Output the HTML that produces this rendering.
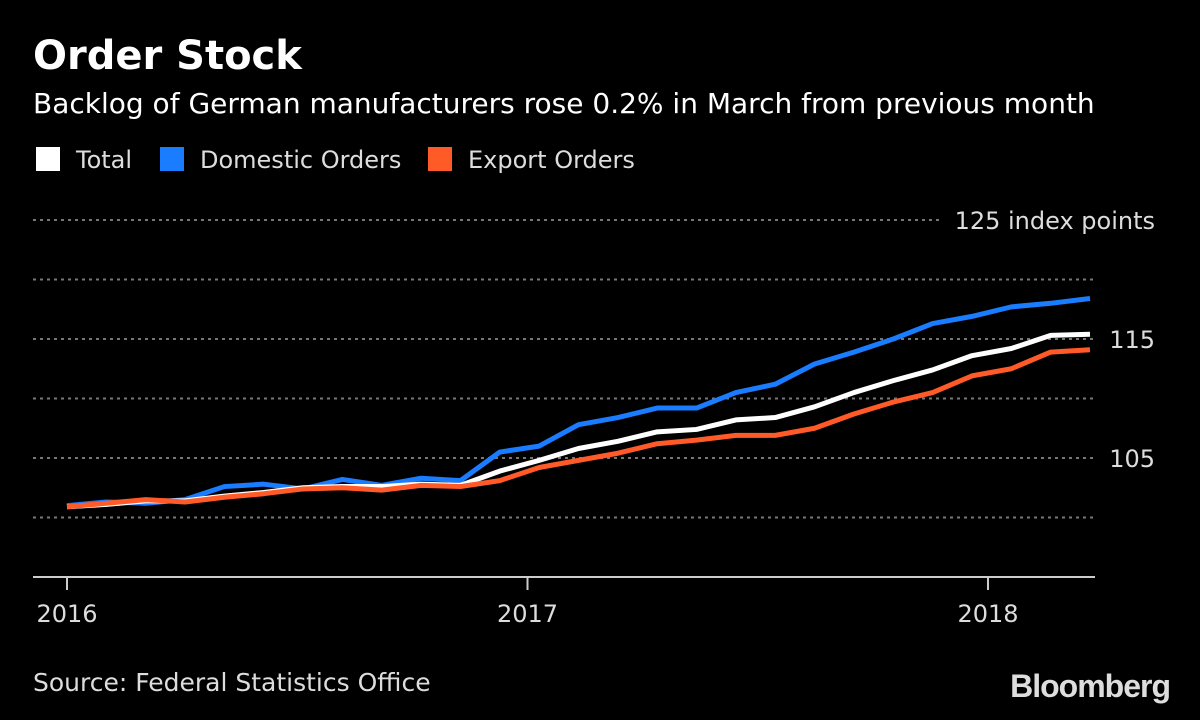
<!DOCTYPE html>
<html><head><meta charset="utf-8">
<style>
html,body{margin:0;padding:0;background:#000;}
body{width:1200px;height:720px;overflow:hidden;position:relative;font-family:"DejaVu Sans","Liberation Sans",sans-serif;color:#fff;}
.t{position:absolute;white-space:nowrap;}
</style></head>
<body>
<div class="t" style="left:33px;top:33px;font-size:40px;font-weight:bold;">Order Stock</div>
<div class="t" style="left:33px;top:87px;font-size:28px;">Backlog of German manufacturers rose 0.2% in March from previous month</div>
<div class="t" style="left:36px;top:146px;font-size:24px;color:#ddd;"><span style="display:inline-block;width:24px;height:24px;background:#fff;vertical-align:-3px;margin-right:16px;"></span>Total</div>
<div class="t" style="left:160px;top:146px;font-size:24px;color:#ddd;"><span style="display:inline-block;width:24px;height:24px;background:#1a7cff;vertical-align:-3px;margin-right:16px;"></span>Domestic Orders</div>
<div class="t" style="left:428px;top:146px;font-size:24px;color:#ddd;"><span style="display:inline-block;width:24px;height:24px;background:#ff5a27;vertical-align:-3px;margin-right:16px;"></span>Export Orders</div>
<svg id="chart" width="1200" height="720" style="position:absolute;left:0;top:0;"></svg>
<div class="t" style="left:33px;top:668px;font-size:25px;color:#ddd;">Source: Federal Statistics Office</div>
<div class="t" style="right:30px;top:668px;font-family:'Liberation Sans',sans-serif;font-size:32px;font-weight:bold;color:#ddd;letter-spacing:-1px;">Bloomberg</div>
<script>
const total=[100.9,101.1,101.4,101.4,101.8,102.1,102.5,102.6,102.6,102.8,102.7,103.9,104.8,105.8,106.4,107.2,107.4,108.2,108.4,109.3,110.5,111.5,112.4,113.6,114.2,115.3,115.4];
const domestic=[101.0,101.3,101.2,101.5,102.6,102.8,102.4,103.2,102.7,103.3,103.1,105.5,106.0,107.8,108.4,109.2,109.2,110.5,111.2,112.9,113.9,115.0,116.3,116.9,117.7,118.0,118.4];
const exportO=[100.9,101.2,101.5,101.3,101.7,102.0,102.4,102.5,102.3,102.7,102.6,103.1,104.2,104.8,105.4,106.2,106.5,106.9,106.9,107.5,108.7,109.7,110.5,111.9,112.5,113.9,114.1];
const gridVals=[100,105,110,115,120,125];
const yLabels=["","105","","115","","125 index points"];
const yearTicks=[0,12,24];
const yearLabels=["2016","2017","2018"];
const svg=document.getElementById('chart');
const NS='http://www.w3.org/2000/svg';
const y=v=>577-(v-95)*11.9;
const x=i=>67+i*(1090-67)/26;
const FF='DejaVu Sans, Liberation Sans, sans-serif';
function mk(t,a){const e=document.createElementNS(NS,t);for(const k in a)e.setAttribute(k,a[k]);svg.appendChild(e);return e;}
gridVals.forEach((v,i)=>{
  const l=mk('line',{x1:33,x2:(i==5?940:1095),y1:y(v),y2:y(v),stroke:'#777','stroke-width':2,'stroke-dasharray':'3,4'});
  
  
  if(yLabels[i]){
    const t=mk('text',{x:1155,y:y(v)+9,'text-anchor':'end','font-size':24,fill:'#ddd','font-family':FF});
    t.textContent=yLabels[i];
    
    
  }
});
const ax=mk('line',{x1:33,x2:1095,y1:577,y2:577,stroke:'#ccc','stroke-width':2});


yearTicks.forEach((m,i)=>{
  const xx=67+m*460.5/12;
  const tk=mk('line',{x1:xx,x2:xx,y1:577,y2:590,stroke:'#ccc','stroke-width':2});
  
  
  const t=mk('text',{x:xx,y:622,'text-anchor':'middle','font-size':24,fill:'#ddd','font-family':FF});
  t.textContent=yearLabels[i];
  
  
});
function line(data,color,name){
  const p=mk('polyline',{points:data.map((v,i)=>x(i)+','+y(v)).join(' '),fill:'none',stroke:color,'stroke-width':5,'stroke-linejoin':'round'});
  
  
}
line(domestic,'#1a7cff','domestic-orders-line');
line(total,'#ffffff','total-line');
line(exportO,'#ff5a27','export-orders-line');
</script>
</body></html>
